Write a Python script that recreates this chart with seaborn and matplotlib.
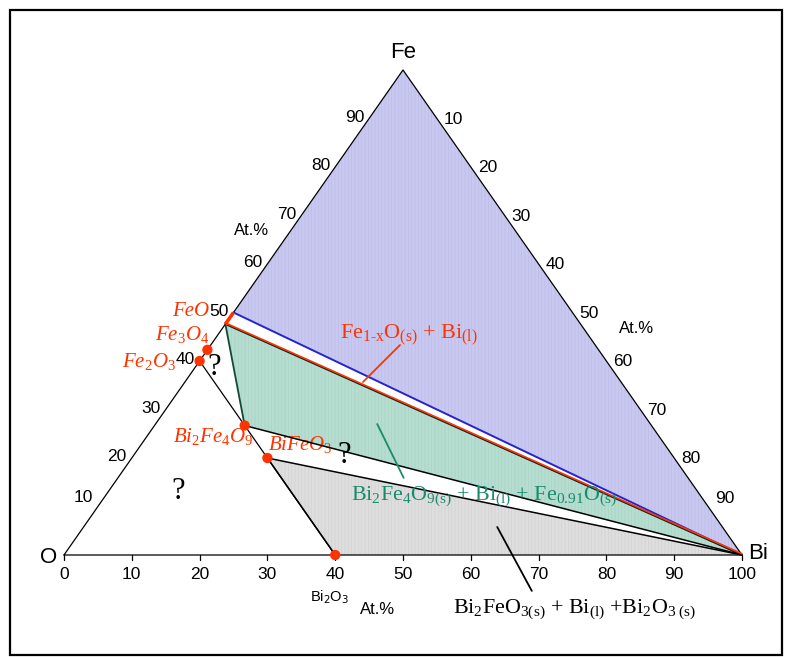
import matplotlib
matplotlib.use("Agg")
import matplotlib.pyplot as plt
from matplotlib.transforms import offset_copy
from matplotlib.patches import Rectangle
import seaborn as sns
import pandas as pd

# ---- data (atomic %, O is the remainder) ----
vertex_names = ["O", "Bi", "Fe"]
bottom_ticks = [0, 10, 20, 30, 40, 50, 60, 70, 80, 90, 100]
edge_ticks = [10, 20, 30, 40, 50, 60, 70, 80, 90]

phase_names = ["Fe3O4", "Fe2O3", "Bi2Fe4O9", "BiFeO3", "Bi2O3"]
phase_bi = [0.0, 0.0, 13.3, 20.0, 40.0]
phase_fe = [42.3, 40.0, 26.7, 20.0, 0.0]

feo_fe = 50.0      # Fe1-xO upper limit on the Fe-O edge
fe091o_fe = 47.6   # Fe0.91O on the Fe-O edge

sns.set_theme(style="white")
plt.rcParams["font.family"] = ["Liberation Sans", "DejaVu Sans"]
plt.rcParams["text.color"] = "black"
plt.rcParams["mathtext.fontset"] = "custom"
plt.rcParams["mathtext.rm"] = "Liberation Serif"
plt.rcParams["mathtext.it"] = "Liberation Serif:italic"
plt.rcParams["hatch.linewidth"] = 0.35


def tern(bi, fe):
    """Ternary (Bi, Fe) composition -> plot coordinates."""
    return bi + fe / 2.0, fe


fig = plt.figure(figsize=(7.95, 6.57), dpi=100)
ax = fig.add_axes([0, 0, 1, 1])
ax.set_xlim(-9.44, 107.82)
ax.set_ylim(-21.03, 114.43)
ax.axis("off")

# outer frame
fig.patches.append(Rectangle((10 / 795, 2 / 657), 772 / 795, 645 / 657,
                             transform=fig.transFigure, fill=False,
                             edgecolor="black", lw=1.6))

O = tern(0, 0)
Bi = tern(100, 0)
Fe = tern(0, 100)
feo = tern(0, feo_fe)
fe091 = tern(0, fe091o_fe)
pts = {n: tern(b, f) for n, b, f in zip(phase_names, phase_bi, phase_fe)}


def fill_region(poly, face, hatch_col):
    xs, ys = zip(*poly)
    ax.fill(xs, ys, color=face, lw=0, zorder=1)
    ax.fill(xs, ys, facecolor="none", edgecolor=hatch_col, lw=0,
            hatch="|||||", zorder=1.1)


# phase regions
fill_region([feo, Fe, Bi], "#c8c8f0", "#b6b6e4")
fill_region([fe091, Bi, pts["Bi2Fe4O9"]], "#b5ddd0", "#a2cfc0")
fill_region([pts["BiFeO3"], Bi, pts["Bi2O3"]], "#dedede", "#cdcdcd")

# triangle outline
tri = pd.DataFrame({"x": [O[0], Bi[0], Fe[0], O[0]],
                    "y": [O[1], Bi[1], Fe[1], O[1]]})
ax.plot(tri.x, tri.y, color="black", lw=0.9, zorder=3)

# Fe2O3 - Bi2O3 section
ax.plot([pts["Fe2O3"][0], pts["Bi2O3"][0]], [pts["Fe2O3"][1], pts["Bi2O3"][1]],
        color="black", lw=0.9, zorder=3)

# tie lines
ax.plot([feo[0], Bi[0]], [feo[1], Bi[1]], color="#2323d0", lw=1.4, zorder=4)
ax.plot([fe091[0], Bi[0]], [fe091[1], Bi[1]], color="#0b2a20", lw=1.2, zorder=4)
up = offset_copy(ax.transData, fig=fig, x=0, y=1.2, units="dots")
ax.plot([fe091[0], Bi[0]], [fe091[1], Bi[1]], color="#ff3300", lw=1.2,
        zorder=4.5, transform=up)
ax.plot([fe091[0], pts["Bi2Fe4O9"][0]], [fe091[1], pts["Bi2Fe4O9"][1]],
        color="#0f4a3a", lw=1.3, zorder=4)
ax.plot([pts["Bi2Fe4O9"][0], Bi[0]], [pts["Bi2Fe4O9"][1], Bi[1]],
        color="black", lw=1.1, zorder=4)
ax.plot([pts["BiFeO3"][0], Bi[0]], [pts["BiFeO3"][1], Bi[1]],
        color="black", lw=1.1, zorder=4)
ax.plot([pts["BiFeO3"][0], pts["Bi2O3"][0]], [pts["BiFeO3"][1], pts["Bi2O3"][1]],
        color="black", lw=1.1, zorder=4)

# Fe1-xO homogeneity range on the Fe-O edge
ax.plot([fe091[0], feo[0]], [fe091[1], feo[1]], color="#ff3300", lw=2.6,
        zorder=5, solid_capstyle="butt")

# compound points
dots = pd.DataFrame({"x": [pts[n][0] for n in phase_names],
                     "y": [pts[n][1] for n in phase_names]})
sns.scatterplot(data=dots, x="x", y="y", ax=ax, color="#ff3300", s=55,
                edgecolor="none", zorder=6, legend=False)

# bottom axis ticks and labels
for v in bottom_ticks:
    ax.plot([v, v], [0, -1.0], color="black", lw=0.9, zorder=3)
    ax.text(v, -4.1, str(v), ha="center", va="center", fontsize=12.5)

# Fe scale on the O-Fe edge (lowest label lifted clear of the corner)
for v in edge_ticks:
    x, y = tern(0, v)
    dy = 9 if v == 10 else 1
    tr = offset_copy(ax.transData, fig=fig, x=-5, y=dy, units="dots")
    ax.text(x, y, str(v), ha="right", va="center", fontsize=12.5, transform=tr)

# Bi scale on the Fe-Bi edge
for v in edge_ticks:
    x, y = tern(v, 100 - v)
    dy = 8 if v == 90 else -1
    tr = offset_copy(ax.transData, fig=fig, x=7, y=dy, units="dots")
    ax.text(x, y, str(v), ha="left", va="center", fontsize=12.5, transform=tr)

# vertex labels
ax.text(Fe[0], 103.7, "Fe", ha="center", va="center", fontsize=16)
ax.text(-1.0, -0.6, "O", ha="right", va="center", fontsize=16)
ax.text(100.9, 0.4, "Bi", ha="left", va="center", fontsize=16)

ax.text(27.7, 67.0, "At.%", ha="center", va="center", fontsize=12)
ax.text(84.5, 46.8, "At.%", ha="center", va="center", fontsize=12)
ax.text(46.3, -11.3, "At.%", ha="center", va="center", fontsize=12)
ax.text(39.2, -8.7, r"Bi$_\mathsf{2}$O$_\mathsf{3}$", ha="center", va="center",
        fontsize=10.5)

# compound names
red = "#ff3300"
cfont = dict(color=red, fontsize=15, family="Liberation Serif", style="italic")
ax.text(21.4, 49.3, "FeO", ha="right", va="baseline", **cfont)
ax.text(21.5, 44.3, r"Fe$_\mathit{3}$O$_\mathit{4}$", ha="right", va="baseline", **cfont)
ax.text(16.5, 38.8, r"Fe$_\mathit{2}$O$_\mathit{3}$", ha="right", va="baseline", **cfont)
ax.text(16.1, 23.3, r"Bi$_\mathit{2}$Fe$_\mathit{4}$O$_\mathit{9}$", ha="left",
        va="baseline", **cfont)
ax.text(30.1, 21.6, r"BiFeO$_\mathit{3}$", ha="left", va="baseline", **cfont)

# unknown regions
for qx, qy in [(22.1, 38.6), (16.8, 13.0), (41.3, 20.6)]:
    ax.text(qx, qy, "?", ha="center", va="center", fontsize=22,
            family="Liberation Serif")

# phase-field labels with leader lines
green = "#1b8a6b"
rfont = dict(family="Liberation Serif")
ax.text(40.7, 44.7, r"Fe$_\mathrm{1\text{-}x}$O$_\mathrm{(s)}$ + Bi$_\mathrm{(l)}$",
        ha="left", va="baseline", fontsize=16, color=red, **rfont)
ax.plot([49.56, 44.1], [43.3, 35.67], color=red, lw=1.3, zorder=7)

ax.text(42.3, 11.3,
        r"Bi$_\mathrm{2}$Fe$_\mathrm{4}$O$_\mathrm{9(s)}$ + Bi$_\mathrm{(l)}$ + Fe$_\mathrm{0.91}$O$_\mathrm{(s)}$",
        ha="left", va="baseline", fontsize=15.8, color=green, zorder=8, **rfont)
ax.plot([46.2, 50.1], [27.0, 15.9], color=green, lw=1.3, zorder=7)

ax.text(57.4, -12.0,
        r"Bi$_\mathrm{2}$FeO$_\mathrm{3(s)}$ + Bi$_\mathrm{(l)}$ +Bi$_\mathrm{2}$O$_\mathrm{3\ (s)}$",
        ha="left", va="baseline", fontsize=15.8, color="black", **rfont)
ax.plot([63.9, 69.0], [5.77, -7.4], color="black", lw=1.3, zorder=7)

fig.savefig("out.png", dpi=100)
